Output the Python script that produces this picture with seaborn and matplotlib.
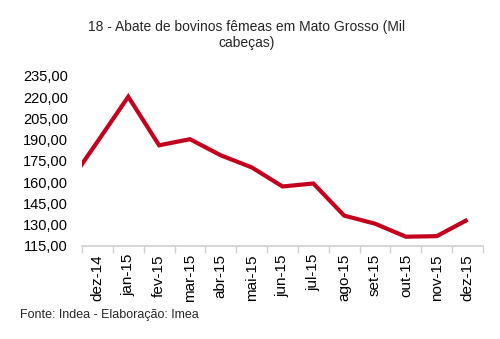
import matplotlib
matplotlib.use("Agg")
import matplotlib.pyplot as plt
import seaborn as sns
import pandas as pd
import numpy as np
from matplotlib.ticker import FuncFormatter, FixedLocator

# Monthly slaughter of female cattle in Mato Grosso (thousand head)
months = ["dez-14", "jan-15", "fev-15", "mar-15", "abr-15", "mai-15", "jun-15",
          "jul-15", "ago-15", "set-15", "out-15", "nov-15", "dez-15"]
values = [188.5, 220.3, 186.0, 190.3, 178.9, 170.4, 156.9,
          159.0, 136.3, 130.6, 121.4, 121.8, 133.4]
# previous month, only its segment entering the plot is visible
prev_value = 157.0

y_ticks = [115, 130, 145, 160, 175, 190, 205, 220, 235]

sns.set_theme(style="white")
plt.rcParams["font.family"] = ["Liberation Sans", "DejaVu Sans"]

df = pd.DataFrame({
    "pos": np.arange(-1, len(months)),
    "valor": [prev_value] + values,
})

fig = plt.figure(figsize=(5.0, 3.39), dpi=100)
ax = fig.add_axes([0.164, 0.275, 0.802, 0.501])

sns.lineplot(data=df, x="pos", y="valor", ax=ax, color="#C4001C",
             linewidth=3.0, solid_capstyle="butt", solid_joinstyle="miter")

ax.set_xlim(-0.5, len(months) - 0.5)
ax.set_ylim(y_ticks[0], y_ticks[-1])
ax.set_xlabel("")
ax.set_ylabel("")

ax.yaxis.set_major_locator(FixedLocator(y_ticks))
ax.yaxis.set_major_formatter(FuncFormatter(lambda v, p: f"{v:.2f}".replace(".", ",")))
ax.tick_params(axis="y", length=0, pad=10, labelsize=10.5, labelcolor="black")

# category labels centered, tick marks on category boundaries
ax.set_xticks(np.arange(len(months)))
ax.set_xticklabels(months, rotation=90, fontsize=11)
ax.set_xticks(np.arange(-0.5, len(months)), minor=True)
ax.tick_params(axis="x", which="major", length=0, pad=6, labelcolor="black")
ax.tick_params(axis="x", which="minor", length=5, width=1, color="#D0D0D0",
               direction="out", bottom=True)

for side in ["top", "right", "left"]:
    ax.spines[side].set_visible(False)
ax.spines["bottom"].set_color("#D0D0D0")
ax.spines["bottom"].set_linewidth(1.2)
ax.grid(False)

fig.text(0.493, 0.897, "18 - Abate de bovinos fêmeas em Mato Grosso (Mil\ncabeças)",
         ha="center", va="center", fontsize=10, linespacing=1.25)
fig.text(0.04, 0.071, "Fonte: Indea - Elaboração: Imea", ha="left", va="center",
         fontsize=9)

fig.savefig("out.png", dpi=100, facecolor="white")
